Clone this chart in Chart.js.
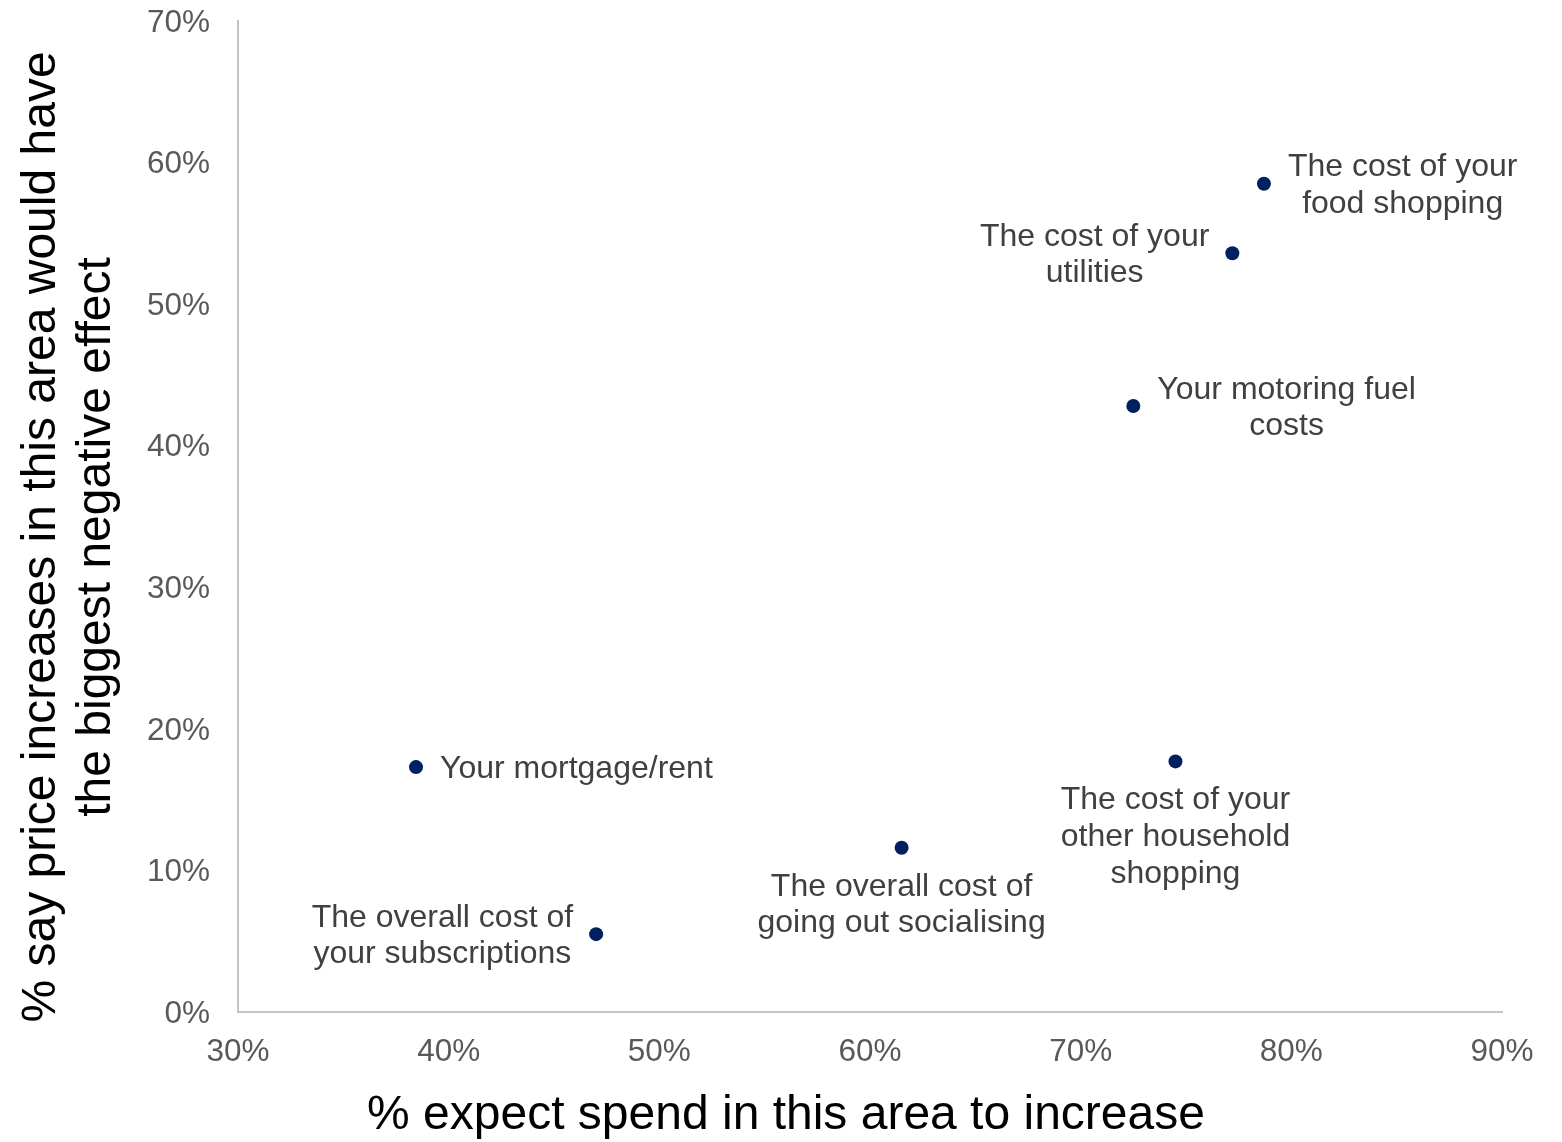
<!DOCTYPE html>
<html>
<head>
<meta charset="utf-8">
<script src="https://cdn.jsdelivr.net/npm/chart.js@4"></script>
<style>
  html, body { margin: 0; padding: 0; background: #fff; }
  #wrap { width: 1562px; height: 1142px; }
</style>
</head>
<body>
<div id="wrap"><canvas id="chart"></canvas></div>
<script>
// each item: label lines, % expecting spend to rise (x), % saying it hurts most (y)
const categories = [
  ["The cost of your", "food shopping"],
  ["The cost of your", "utilities"],
  ["Your motoring fuel", "costs"],
  ["The cost of your", "other household", "shopping"],
  ["Your mortgage/rent"],
  ["The overall cost of", "going out socialising"],
  ["The overall cost of", "your subscriptions"]
];
const spendIncrease = [78.7, 77.2, 72.5, 74.5, 38.45, 61.5, 47.0];
const biggestEffect = [58.5, 53.6, 42.8, 17.7, 17.3, 11.6, 5.5];
const xTicks = [30, 40, 50, 60, 70, 80, 90];
const yTicks = [0, 10, 20, 30, 40, 50, 60, 70];

// where each label sits relative to its point
const labelSide = ["right", "left", "right", "below", "right", "below", "left"];

const xTitle = "% expect spend in this area to increase";
const yTitle = ["% say price increases in this area would have", "the biggest negative effect"];

const FONT = "'Liberation Sans', Arial, sans-serif";

const pointLabels = {
  id: "pointLabels",
  afterDatasetsDraw(chart) {
    const ctx = chart.ctx;
    const meta = chart.getDatasetMeta(0);
    const lh = 36.7;
    ctx.save();
    ctx.font = "32px " + FONT;
    ctx.fillStyle = "#404040";
    ctx.textAlign = "center";
    ctx.textBaseline = "middle";
    meta.data.forEach((pt, i) => {
      const lines = categories[i];
      const w = Math.max(...lines.map(l => ctx.measureText(l).width));
      const side = labelSide[i];
      let cx = pt.x, top;
      if (side === "right") {
        cx = pt.x + 24 + w / 2;
        top = pt.y + 2 - (lines.length - 1) * lh / 2;
      } else if (side === "left") {
        cx = pt.x - 23 - w / 2;
        top = pt.y + 2 - (lines.length - 1) * lh / 2;
      } else {
        top = pt.y + 39;
      }
      lines.forEach((l, k) => ctx.fillText(l, cx, top + k * lh));
    });
    ctx.restore();
  }
};

const axisTitles = {
  id: "axisTitles",
  afterDraw(chart) {
    const ctx = chart.ctx;
    ctx.save();
    ctx.font = "48px " + FONT;
    ctx.fillStyle = "#000";
    ctx.textAlign = "center";
    ctx.textBaseline = "middle";
    ctx.fillText(xTitle, 786, 1116);
    ctx.translate(0, 537);
    ctx.rotate(-Math.PI / 2);
    ctx.fillText(yTitle[0], 0, 42);
    ctx.fillText(yTitle[1], 0, 97);
    ctx.restore();
  }
};

new Chart(document.getElementById("chart"), {
  type: "scatter",
  data: {
    datasets: [{
      data: spendIncrease.map((x, i) => ({ x: x, y: biggestEffect[i] })),
      backgroundColor: "#002060",
      borderWidth: 0,
      pointRadius: 7
    }]
  },
  options: {
    responsive: true,
    maintainAspectRatio: false,
    animation: false,
    layout: { padding: { left: 0, top: 21, right: 60, bottom: 0 } },
    plugins: {
      legend: { display: false },
      tooltip: { enabled: false }
    },
    scales: {
      x: {
        type: "linear",
        min: xTicks[0],
        max: xTicks[xTicks.length - 1],
        afterBuildTicks: s => { s.ticks = xTicks.map(v => ({ value: v })); },
        afterFit: s => { s.height = 130; s.paddingLeft = 0; s.paddingRight = 0; },
        grid: { display: false, drawTicks: false },
        border: { display: true, color: "#c4c4c4", width: 2 },
        ticks: {
          padding: 21,
          color: "#595959",
          font: { family: FONT, size: 31.5 },
          callback: v => v + "%"
        }
      },
      y: {
        type: "linear",
        min: yTicks[0],
        max: yTicks[yTicks.length - 1],
        afterBuildTicks: s => { s.ticks = yTicks.map(v => ({ value: v })); },
        afterFit: s => { s.width = 238; s.paddingTop = 0; s.paddingBottom = 0; },
        grid: { display: false, drawTicks: false },
        border: { display: true, color: "#c4c4c4", width: 2 },
        ticks: {
          padding: 28,
          labelOffset: 2,
          color: "#595959",
          font: { family: FONT, size: 31.5 },
          callback: v => v + "%"
        }
      }
    }
  },
  plugins: [pointLabels, axisTitles]
});
</script>
</body>
</html>
